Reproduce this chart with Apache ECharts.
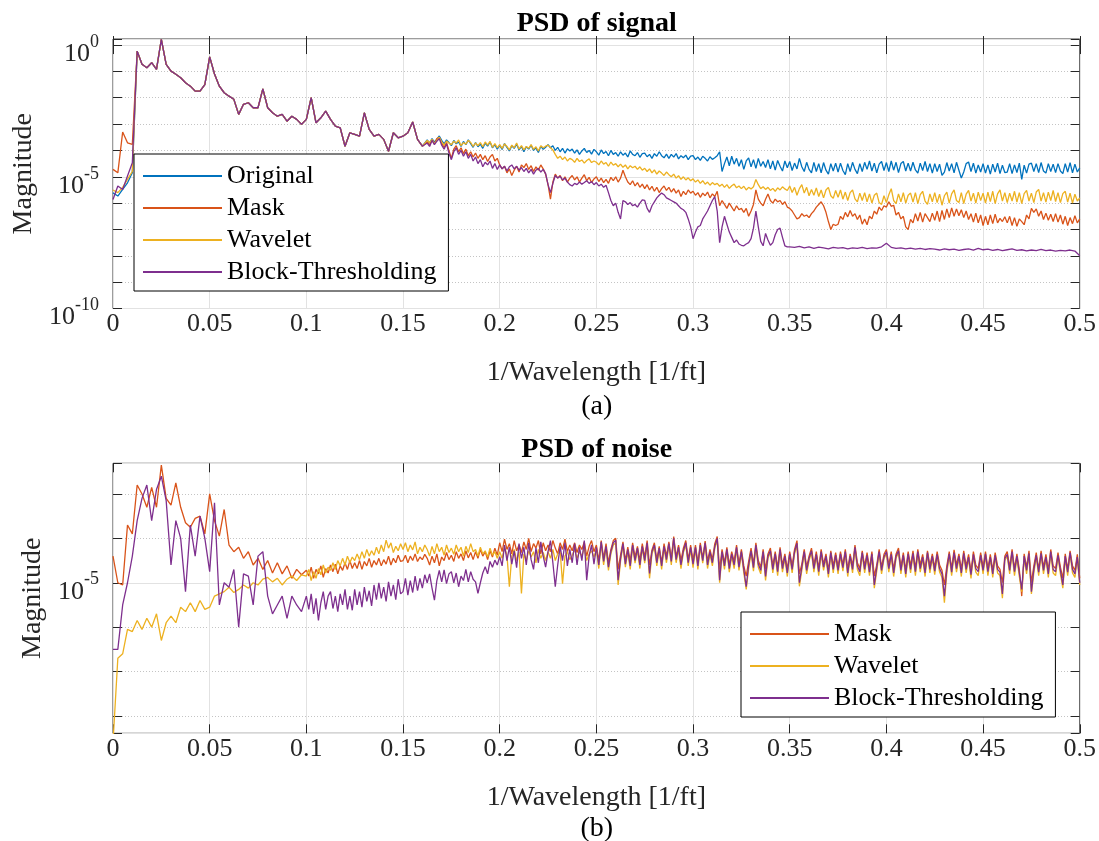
<!DOCTYPE html>
<html>
<head>
<meta charset="utf-8">
<title>PSD of signal and noise</title>
<script src="https://cdn.jsdelivr.net/npm/echarts@6/dist/echarts.min.js"></script>
<style>
  html, body { margin: 0; padding: 0; background: #ffffff; }
  #chart { width: 1099px; height: 841px; }
</style>
</head>
<body>
<div id="chart"></div>
<script>
// Spectra are sampled on regular frequency grids (1/ft).
// Magnitudes are stored as log10 values (exponents of ten).
const COARSE_STEP = 0.0025;
const FINE_STEP = 0.00125;

// ---------------- PSD of signal ----------------
// 0 .. 0.01 (coarse)
const sigOriginalHead = [-5.61, -5.73, -5.48, -5.23, -4.85];
const sigMaskHead     = [-4.72, -4.85, -3.3, -3.71, -3.77];
const sigWaveletHead  = [-5.5, -5.6, -5.4, -5.1, -4.8];
const sigBlockHead    = [-5.86, -5.35, -5.48, -4.97, -4.47];

// 0.0125 .. 0.16 (coarse): the four estimates coincide in this band
const sigSharedBand = [
  -0.23, -0.73, -0.86, -0.67, -0.92, 0.22, -0.73, -0.99, -1.11, -1.24,
  -1.43, -1.56, -1.75, -1.75, -1.5, -0.45, -1.1, -1.56, -1.81, -1.94,
  -2.06, -2.63, -2.25, -2.19, -2.38, -2.38, -1.66, -2.38, -2.57, -2.7,
  -2.63, -2.89, -2.7, -2.82, -3.01, -2.82, -2.0, -2.95, -2.76, -2.51,
  -2.82, -3.08, -3.14, -3.84, -3.33, -3.39, -3.46, -2.57, -3.2, -3.46,
  -3.39, -3.58, -4.03, -3.33, -3.52, -3.46, -3.33, -2.92, -3.58, -3.84
];

// 0.1625 .. 0.5 (fine)
const sigOriginalTail = [
  -3.6, -3.72, -3.55, -3.68, -3.58, -3.45, -3.62, -3.75, -3.6, -3.7,
  -3.82, -3.62, -3.75, -3.68, -3.85, -3.66, -3.78, -3.6, -3.74, -3.88,
  -3.7, -3.86, -3.76, -3.92, -3.72, -3.84, -3.68, -3.9, -3.78, -3.95,
  -3.8, -3.96, -3.74, -3.88, -4.02, -3.82, -3.92, -3.76, -3.98, -3.85,
  -4.05, -3.86, -3.95, -3.8, -4.0, -3.9, -4.08, -3.84, -3.96, -3.88,
  -3.78, -3.9, -3.82, -4.0, -3.88, -4.05, -3.92, -4.1, -3.94, -4.02,
  -3.95, -4.1, -3.98, -4.15, -4.02, -3.92, -4.08, -4.0, -4.14, -3.96,
  -4.05, -4.18, -3.98, -4.12, -4.04, -4.2, -4.0, -4.15, -4.08, -4.22,
  -4.05, -4.18, -4.1, -4.25, -4.02, -4.15, -4.2, -4.08, -4.26, -4.12,
  -4.1, -4.24, -4.15, -4.3, -4.12, -4.22, -4.05, -4.2, -4.28, -4.14,
  -4.3, -4.15, -4.25, -4.12, -4.32, -4.2, -4.28, -4.18, -4.35, -4.22,
  -4.2, -4.35, -4.25, -4.38, -4.22, -4.3, -4.4, -4.24, -4.34, -4.28,
  -4.2, -4.05, -4.8, -4.5, -4.25, -4.58, -4.22, -4.52, -4.3, -4.6,
  -4.35, -4.72, -4.4, -4.28, -4.62, -4.35, -4.68, -4.3, -4.6, -4.42,
  -4.65, -4.35, -4.7, -4.4, -4.75, -4.38, -4.6, -4.78, -4.4, -4.66,
  -4.42, -4.76, -4.48, -4.7, -4.3, -4.62, -4.8, -4.45, -4.72, -4.85,
  -4.45, -4.8, -4.5, -4.85, -4.46, -4.75, -4.9, -4.5, -4.78, -4.48,
  -4.82, -4.48, -4.76, -4.92, -4.5, -4.8, -4.45, -4.72, -4.88, -4.5,
  -4.8, -4.45, -4.72, -4.4, -4.78, -4.48, -4.85, -4.52, -4.42, -4.76,
  -4.46, -4.8, -4.4, -4.75, -4.45, -4.84, -4.5, -4.42, -4.78, -4.48,
  -4.78, -4.45, -4.74, -4.86, -4.48, -4.76, -4.42, -4.8, -4.5, -4.86,
  -4.5, -4.8, -4.52, -4.95, -4.82, -4.46, -4.78, -4.5, -4.85, -4.45,
  -4.75, -5.05, -4.82, -4.5, -4.44, -4.8, -4.48, -4.86, -4.55, -4.82,
  -4.5, -4.86, -4.55, -4.9, -4.52, -4.82, -4.48, -4.88, -4.56, -4.84,
  -4.82, -4.5, -4.88, -4.55, -4.84, -4.48, -5.1, -4.56, -4.86, -4.52,
  -4.48, -4.8, -4.5, -4.84, -4.46, -4.78, -4.86, -4.5, -4.8, -4.52,
  -4.84, -4.5, -4.78, -4.88, -4.5, -4.82, -4.46, -4.85, -4.52, -4.82,
  -4.66
];
const sigMaskTail = [
  -3.68, -3.8, -3.6, -3.75, -3.55, -3.5, -3.72, -3.88, -3.7, -4.0,
  -4.3, -3.95, -3.82, -4.05, -3.9, -4.12, -3.95, -4.2, -4.05, -4.25,
  -4.1, -4.3, -4.15, -4.35, -4.2, -4.42, -4.25, -4.15, -4.4, -4.3,
  -4.55, -4.7, -4.6, -4.85, -4.7, -4.95, -4.75, -4.6, -4.82, -4.55,
  -4.65, -4.5, -4.72, -4.58, -4.8, -4.62, -4.75, -4.55, -4.7, -4.9,
  -5.3, -5.85, -5.2, -4.9, -5.05, -4.95, -5.15, -5.0, -5.2, -5.05,
  -4.95, -5.12, -5.0, -5.2, -5.05, -4.92, -5.15, -5.02, -5.22, -5.08,
  -5.0, -5.18, -5.05, -5.22, -5.1, -5.25, -5.02, -5.15, -5.0, -5.2,
  -5.05, -4.75, -5.0, -5.2, -5.3, -5.15, -5.35, -5.22, -5.4, -5.28,
  -5.45, -5.3, -5.5, -5.36, -5.55, -5.4, -5.6, -5.45, -5.35, -5.52,
  -5.4, -5.58, -5.45, -5.62, -5.5, -5.75, -5.55, -5.68, -5.5, -5.62,
  -5.55, -5.7, -5.6, -5.78, -5.62, -5.72, -5.58, -5.8, -5.65, -5.75,
  -5.55, -6.1, -5.9, -6.05, -6.2, -6.0, -6.15, -6.3, -6.1, -6.25,
  -6.2, -6.35, -6.2, -6.5, -6.3, -6.05, -5.5, -5.85, -6.0, -6.1,
  -5.85, -5.65, -5.9, -6.0, -5.85, -5.95, -5.9, -6.05, -5.95, -6.15,
  -6.2, -6.3, -6.45, -6.6, -6.55, -6.4, -6.5, -6.45, -6.55, -6.4,
  -6.3, -6.15, -6.05, -5.95, -6.1, -6.35, -6.7, -7.0, -6.8, -6.85,
  -6.8, -6.5, -6.62, -6.35, -6.52, -6.28, -6.5, -6.4, -6.62, -6.45,
  -6.8, -6.6, -6.82, -6.5, -6.6, -6.3, -6.42, -6.15, -6.28, -6.1,
  -6.15, -5.95, -6.12, -6.08, -6.45, -6.35, -6.6, -6.5, -6.9, -7.0,
  -6.62, -6.75, -6.4, -6.68, -6.35, -6.72, -6.4, -6.55, -6.7, -6.38,
  -6.65, -6.3, -6.7, -6.28, -6.62, -6.22, -6.55, -6.18, -6.5, -6.22,
  -6.48, -6.25, -6.55, -6.3, -6.62, -6.4, -6.72, -6.38, -6.75, -6.45,
  -6.85, -6.5, -6.82, -6.45, -6.78, -6.42, -6.75, -6.58, -6.7, -6.52,
  -6.75, -6.5, -6.85, -6.55, -6.88, -6.6, -6.7, -6.82, -6.45, -6.6,
  -6.2, -6.35, -6.22, -6.5, -6.3, -6.62, -6.38, -6.65, -6.42, -6.7,
  -6.4, -6.72, -6.45, -6.8, -6.5, -6.85, -6.55, -6.78, -6.48, -6.75,
  -6.6
];
const sigWaveletTail = [
  -3.62, -3.7, -3.58, -3.75, -3.62, -3.5, -3.68, -3.8, -3.64, -3.72,
  -3.78, -3.65, -3.72, -3.6, -3.82, -3.7, -3.76, -3.62, -3.7, -3.85,
  -3.72, -3.82, -3.7, -3.86, -3.68, -3.8, -3.66, -3.88, -3.74, -3.9,
  -3.78, -3.92, -3.75, -3.85, -3.98, -3.8, -3.9, -3.72, -3.95, -3.82,
  -3.98, -3.85, -3.92, -3.78, -3.96, -3.86, -4.02, -3.82, -3.9, -3.84,
  -3.8, -3.9, -3.98, -4.15, -4.3, -4.22, -4.35, -4.25, -4.4, -4.3,
  -4.35, -4.45, -4.3, -4.42, -4.36, -4.48, -4.38, -4.32, -4.46, -4.4,
  -4.45, -4.55, -4.4, -4.52, -4.46, -4.6, -4.44, -4.56, -4.5, -4.62,
  -4.52, -4.64, -4.55, -4.7, -4.58, -4.66, -4.6, -4.72, -4.62, -4.75,
  -4.68, -4.8, -4.7, -4.85, -4.74, -4.9, -4.78, -4.86, -4.95, -4.82,
  -4.92, -5.0, -4.9, -5.05, -4.96, -5.1, -5.0, -5.12, -5.04, -5.15,
  -5.08, -5.2, -5.12, -5.25, -5.15, -5.28, -5.2, -5.32, -5.22, -5.3,
  -5.25, -5.36, -5.28, -5.4, -5.3, -5.44, -5.34, -5.28, -5.42, -5.35,
  -5.45, -5.36, -5.5, -5.4, -5.46, -5.38, -5.1, -5.3, -5.45, -5.38,
  -5.48, -5.4, -5.52, -5.44, -5.55, -5.42, -5.5, -5.38, -5.46, -5.52,
  -5.35, -5.6, -5.4, -5.7, -5.45, -5.3, -5.62, -5.4, -5.72, -5.48,
  -5.7, -5.42, -5.75, -5.5, -5.8, -5.5, -5.4, -5.72, -5.82, -5.52,
  -5.78, -5.5, -5.85, -5.58, -5.9, -5.6, -5.5, -5.84, -5.95, -5.62,
  -5.9, -5.6, -5.95, -5.65, -6.0, -5.7, -5.62, -5.98, -6.05, -5.72,
  -5.98, -5.68, -5.45, -5.9, -6.02, -5.65, -5.95, -5.6, -6.0, -5.7,
  -5.62, -5.96, -5.6, -6.02, -5.68, -5.55, -5.92, -6.05, -5.65, -5.95,
  -5.6, -5.98, -5.66, -6.08, -5.72, -5.58, -6.0, -5.65, -5.5, -5.9,
  -5.98, -5.6, -6.02, -5.66, -5.52, -5.92, -5.62, -6.0, -5.58, -5.9,
  -5.62, -6.0, -5.58, -5.94, -5.55, -6.02, -5.65, -5.5, -5.92, -5.6,
  -5.98, -5.62, -5.92, -5.55, -5.96, -5.6, -6.02, -5.64, -5.52, -5.92,
  -5.62, -5.98, -5.58, -5.48, -5.92, -5.6, -5.96, -5.58, -5.9, -5.52,
  -5.94, -5.6, -5.98, -5.64, -5.55, -5.96, -5.62, -6.0, -5.66, -5.92,
  -5.8
];
// Block-Thresholding: 0.1625 .. 0.35 (fine), then 0.3525 .. 0.5 (coarse, flat floor)
const sigBlockTail = [
  -3.72, -3.85, -3.62, -3.78, -3.65, -3.55, -3.8, -3.95, -3.75, -4.1,
  -4.35, -4.05, -3.9, -4.15, -4.0, -4.22, -4.05, -4.3, -4.15, -4.4,
  -4.25, -4.5, -4.35, -4.62, -4.45, -4.55, -4.4, -4.68, -4.5, -4.72,
  -4.55, -4.7, -4.6, -4.78, -4.62, -4.55, -4.7, -4.6, -4.75, -4.65,
  -4.8, -4.68, -4.85, -4.72, -4.9, -4.75, -4.68, -4.82, -4.72, -4.88,
  -5.3, -5.6, -5.25, -4.95, -5.05, -4.98, -5.12, -5.05, -5.2, -5.3,
  -5.35, -5.25, -5.3, -5.2, -5.28, -5.22, -5.15, -5.25, -5.18, -5.3,
  -5.22, -5.35, -5.28, -5.4, -5.32, -5.6, -5.9, -6.1, -6.0, -6.35,
  -6.6, -5.9, -5.95, -6.05, -5.98, -6.1, -6.05, -6.15, -6.0, -5.88,
  -5.9, -6.2, -6.35, -6.1, -5.95, -5.8, -5.7, -5.62, -5.68, -5.8,
  -5.85, -5.9, -5.95, -6.0, -6.1, -6.2, -6.25, -6.35, -6.6, -6.9,
  -7.35, -7.1, -6.9, -6.85, -6.6, -6.45, -6.3, -6.1, -5.9, -5.75,
  -6.3, -7.5, -6.9, -6.5, -6.8, -7.1, -7.3, -7.5, -7.4, -7.55,
  -7.6, -7.62, -7.55, -7.5, -7.35, -6.95, -6.3, -6.9, -7.45, -7.62,
  -7.15, -7.4, -7.6, -7.5, -7.2, -7.0, -6.95, -7.3, -7.62, -7.66,
  -7.66
];
const sigBlockFloor = [
  -7.68, -7.64, -7.7, -7.66, -7.72, -7.67, -7.7, -7.74, -7.68, -7.71,
  -7.69, -7.74, -7.7, -7.72, -7.68, -7.73, -7.7, -7.71, -7.66, -7.52,
  -7.68, -7.72, -7.7, -7.74, -7.71, -7.75, -7.72, -7.76, -7.73, -7.75,
  -7.78, -7.74, -7.77, -7.75, -7.79, -7.76, -7.74, -7.78, -7.72, -7.77,
  -7.75, -7.79, -7.76, -7.8, -7.77, -7.74, -7.79, -7.77, -7.81, -7.78,
  -7.8, -7.76, -7.8, -7.78, -7.82, -7.79, -7.81, -7.78, -7.82, -8.0
];

// ---------------- PSD of noise ----------------
// 0 .. 0.0975 (coarse)
const noiseMaskLow = [
  -4.4, -5.0, -5.05, -3.7, -3.9, -2.8, -3.0, -3.3, -2.85, -3.3,
  -2.35, -3.1, -3.25, -2.75, -3.3, -3.65, -3.75, -3.55, -3.5, -3.9,
  -3.0, -3.6, -3.95, -3.35, -4.15, -4.3, -4.2, -4.45, -4.3, -4.6,
  -4.45, -4.7, -4.5, -4.78, -4.55, -4.8, -4.62, -4.9, -4.7, -4.82
];
const noiseWaveletLow = [
  -8.6, -6.7, -6.6, -6.05, -6.1, -5.85, -6.05, -5.8, -6.0, -5.7,
  -6.3, -5.9, -5.75, -5.9, -5.55, -5.65, -5.45, -5.65, -5.4, -5.6,
  -5.55, -5.3, -5.25, -5.2, -5.1, -5.22, -5.15, -5.05, -5.12, -5.0,
  -5.05, -4.92, -4.88, -4.98, -4.9, -5.05, -4.92, -4.85, -4.95, -4.82
];
const noiseBlockLow = [
  -6.5, -6.5, -5.5, -5.0, -4.4, -3.6, -3.1, -2.8, -3.6, -2.9,
  -2.6, -3.15, -4.6, -3.6, -4.0, -5.2, -3.7, -4.4, -3.5, -4.0,
  -4.75, -3.2, -5.5, -5.0, -5.1, -4.7, -6.0, -4.8, -4.85, -5.5,
  -4.4, -4.3, -5.3, -5.7, -5.5, -5.3, -5.8, -5.3, -5.5, -5.65
];
// 0.1 .. 0.5 (fine)
const noiseMaskHigh = [
  -4.72, -4.85, -4.65, -4.9, -4.7, -4.8, -4.62, -4.88, -4.68, -4.78,
  -4.6, -4.75, -4.58, -4.8, -4.62, -4.72, -4.55, -4.7, -4.5, -4.68,
  -4.55, -4.68, -4.5, -4.7, -4.52, -4.62, -4.45, -4.65, -4.5, -4.6,
  -4.45, -4.62, -4.48, -4.58, -4.4, -4.6, -4.45, -4.55, -4.38, -4.52,
  -4.5, -4.38, -4.55, -4.4, -4.5, -4.35, -4.52, -4.42, -4.48, -4.36,
  -4.45, -4.6, -4.4, -4.55, -4.35, -4.62, -4.42, -4.5, -4.32, -4.48,
  -4.38, -4.52, -4.3, -4.45, -4.35, -4.5, -4.28, -4.44, -4.32, -4.48,
  -4.3, -4.45, -4.25, -4.4, -4.3, -4.48, -4.28, -4.42, -4.22, -4.38,
  -4.1, -4.3, -4.02, -4.25, -4.12, -4.35, -4.05, -4.28, -4.15, -4.32,
  -4.08, -4.25, -4.0, -4.3, -4.12, -4.22, -4.05, -4.35, -4.1, -4.28,
  -4.15, -4.3, -4.05, -4.22, -4.35, -4.1, -4.25, -4.02, -4.3, -4.15,
  -4.28, -4.1, -4.32, -4.15, -4.25, -4.08, -4.4, -4.18, -4.05, -4.3,
  -4.15, -4.5, -4.05, -4.45, -4.12, -4.55, -4.25, -4.05, -4.0, -4.7,
  -4.38, -4.08, -4.5, -4.2, -4.52, -4.1, -4.42, -4.18, -4.5, -4.12,
  -4.42, -4.05, -4.6, -4.26, -4.1, -4.48, -4.18, -4.55, -4.12, -4.4,
  -4.08, -4.45, -3.96, -4.42, -4.15, -4.5, -4.22, -4.05, -4.48, -4.15,
  -4.5, -4.15, -4.55, -4.1, -4.45, -4.06, -4.52, -4.25, -4.48, -4.12,
  -3.96, -4.7, -4.25, -4.55, -4.2, -4.6, -4.3, -4.52, -4.15, -4.58,
  -4.25, -4.62, -4.85, -4.52, -4.22, -4.58, -4.1, -4.5, -4.65, -4.25,
  -4.7, -4.35, -4.22, -4.62, -4.3, -4.66, -4.2, -4.6, -4.35, -4.7,
  -4.3, -4.62, -4.25, -4.05, -4.8, -4.58, -4.25, -4.65, -4.4, -4.22,
  -4.6, -4.3, -4.68, -4.25, -4.58, -4.35, -4.72, -4.28, -4.62, -4.32,
  -4.65, -4.3, -4.6, -4.25, -4.7, -4.35, -4.62, -4.15, -4.55, -4.68,
  -4.28, -4.62, -4.32, -4.68, -4.3, -4.85, -4.6, -4.25, -4.65, -4.36,
  -4.25, -4.6, -4.3, -4.7, -4.35, -4.22, -4.65, -4.32, -4.72, -4.3,
  -4.62, -4.28, -4.68, -4.25, -4.6, -4.36, -4.7, -4.28, -4.62, -4.35,
  -4.66, -4.3, -4.6, -4.72, -5.05, -4.62, -4.3, -4.68, -4.26, -4.6,
  -4.35, -4.7, -4.28, -4.62, -4.36, -4.75, -4.3, -4.6, -4.68, -4.32,
  -4.65, -4.3, -4.68, -4.36, -4.72, -4.32, -4.62, -4.7, -5.0, -4.4,
  -4.3, -4.65, -4.25, -4.68, -4.35, -4.7, -5.3, -4.35, -4.65, -4.28,
  -5.0, -4.62, -4.32, -4.7, -4.28, -4.65, -4.36, -4.72, -4.25, -4.62,
  -4.68, -4.32, -4.65, -4.9, -4.35, -4.7, -4.28, -4.62, -4.72, -4.36,
  -4.9
];
const noiseWaveletHigh = [
  -4.85, -4.7, -4.95, -4.75, -4.9, -4.68, -4.82, -4.6, -4.78, -4.65,
  -4.72, -4.55, -4.7, -4.5, -4.62, -4.45, -4.6, -4.4, -4.55, -4.42,
  -4.5, -4.35, -4.48, -4.3, -4.45, -4.25, -4.4, -4.28, -4.38, -4.2,
  -4.35, -4.15, -4.3, -4.04, -4.22, -4.1, -4.32, -4.18, -4.28, -4.12,
  -4.25, -4.1, -4.3, -4.15, -4.26, -4.08, -4.35, -4.2, -4.3, -4.15,
  -4.25, -4.4, -4.18, -4.35, -4.12, -4.3, -4.2, -4.38, -4.15, -4.32,
  -4.22, -4.36, -4.15, -4.3, -4.2, -4.4, -4.18, -4.32, -4.12, -4.3,
  -4.25, -4.4, -4.2, -4.35, -4.28, -4.42, -4.22, -4.38, -4.3, -4.45,
  -4.3, -4.45, -4.2, -4.38, -5.09, -4.4, -4.25, -4.5, -4.3, -5.24,
  -4.35, -4.5, -4.28, -4.42, -4.3, -4.55, -4.25, -4.45, -4.32, -4.5,
  -4.3, -4.45, -4.25, -4.5, -4.35, -4.28, -5.02, -4.4, -4.3, -4.48,
  -4.38, -4.25, -4.45, -4.3, -4.4, -4.22, -4.5, -4.35, -4.28, -4.42,
  -4.25, -4.68, -4.12, -4.6, -4.22, -4.72, -4.35, -4.15, -4.1, -5.05,
  -4.52, -4.16, -4.65, -4.3, -4.7, -4.2, -4.56, -4.26, -4.68, -4.22,
  -4.56, -4.15, -4.9, -4.35, -4.2, -4.62, -4.26, -4.7, -4.22, -4.55,
  -4.16, -4.6, -4.05, -4.55, -4.25, -4.68, -4.32, -4.15, -4.62, -4.25,
  -4.66, -4.25, -4.7, -4.2, -4.56, -4.15, -4.68, -4.35, -4.62, -4.22,
  -4.05, -5.0, -4.35, -4.7, -4.3, -4.76, -4.4, -4.68, -4.25, -4.72,
  -4.35, -4.78, -5.15, -4.68, -4.32, -4.74, -4.2, -4.65, -4.8, -4.35,
  -4.95, -4.45, -4.32, -4.78, -4.4, -4.84, -4.3, -4.76, -4.45, -4.86,
  -4.4, -4.78, -4.35, -4.16, -5.08, -4.72, -4.35, -4.8, -4.5, -4.32,
  -4.76, -4.4, -4.84, -4.35, -4.72, -4.45, -4.88, -4.36, -4.78, -4.42,
  -4.8, -4.4, -4.74, -4.35, -4.86, -4.45, -4.78, -4.25, -4.7, -4.84,
  -4.36, -4.78, -4.42, -4.84, -4.4, -5.12, -4.74, -4.35, -4.8, -4.46,
  -4.35, -4.76, -4.4, -4.86, -4.45, -4.32, -4.8, -4.42, -4.88, -4.4,
  -4.78, -4.38, -4.84, -4.35, -4.76, -4.46, -4.86, -4.36, -4.78, -4.45,
  -4.82, -4.4, -4.76, -4.88, -5.45, -4.78, -4.4, -4.84, -4.36, -4.76,
  -4.45, -4.86, -4.38, -4.78, -4.46, -4.9, -4.4, -4.76, -4.84, -4.42,
  -4.8, -4.4, -4.84, -4.46, -4.88, -4.42, -4.78, -4.84, -5.35, -4.5,
  -4.4, -4.8, -4.35, -4.84, -4.45, -4.86, -5.2, -4.45, -4.8, -4.38,
  -5.25, -4.78, -4.42, -4.84, -4.38, -4.8, -4.46, -4.88, -4.35, -4.78,
  -4.84, -4.42, -4.8, -5.12, -4.45, -4.84, -4.36, -4.78, -4.88, -4.46,
  -5.05
];
const noiseBlockHigh = [
  -5.3, -5.6, -5.25, -5.7, -5.35, -5.85, -5.45, -5.2, -5.6, -5.3,
  -5.2, -5.58, -5.3, -5.65, -5.25, -5.5, -5.15, -5.6, -5.3, -5.62,
  -5.15, -5.5, -5.2, -5.55, -5.1, -5.42, -5.18, -5.52, -5.05, -5.38,
  -5.0, -5.35, -5.1, -5.42, -4.98, -5.3, -5.05, -5.38, -4.92, -5.25,
  -5.2, -4.9, -5.28, -4.95, -5.22, -4.85, -5.18, -4.9, -5.12, -4.82,
  -5.0, -4.8, -5.12, -5.39, -4.95, -4.72, -4.98, -4.71, -5.02, -4.8,
  -4.75, -5.0, -4.78, -5.09, -4.85, -4.95, -4.7, -4.98, -4.75, -4.92,
  -4.98, -5.24, -5.0, -4.78, -4.64, -4.8, -4.52, -4.65, -4.49, -4.6,
  -4.41, -4.62, -4.15, -4.5, -4.2, -4.58, -4.28, -4.66, -4.12, -4.45,
  -4.2, -4.6, -4.1, -4.48, -4.7, -4.22, -4.55, -4.08, -4.4, -4.65,
  -4.3, -4.05, -4.55, -5.09, -4.6, -4.18, -4.5, -4.1, -4.62, -4.25,
  -4.55, -4.12, -4.6, -4.2, -4.5, -4.05, -4.94, -4.4, -4.15, -4.58,
  -4.2, -4.6, -4.08, -4.52, -4.18, -4.65, -4.3, -4.1, -4.04, -4.94,
  -4.45, -4.12, -4.58, -4.25, -4.62, -4.15, -4.5, -4.22, -4.6, -4.18,
  -4.5, -4.1, -4.79, -4.3, -4.15, -4.55, -4.22, -4.62, -4.18, -4.48,
  -4.12, -4.52, -4.0, -4.48, -4.2, -4.6, -4.28, -4.1, -4.55, -4.2,
  -4.58, -4.2, -4.62, -4.15, -4.5, -4.1, -4.6, -4.3, -4.55, -4.18,
  -4.0, -4.94, -4.3, -4.62, -4.25, -4.68, -4.35, -4.6, -4.2, -4.65,
  -4.3, -4.7, -5.09, -4.6, -4.28, -4.66, -4.15, -4.58, -4.72, -4.3,
  -4.86, -4.4, -4.28, -4.7, -4.35, -4.75, -4.25, -4.68, -4.4, -4.78,
  -4.35, -4.7, -4.3, -4.11, -5.0, -4.65, -4.3, -4.72, -4.45, -4.28,
  -4.68, -4.36, -4.75, -4.3, -4.65, -4.4, -4.8, -4.32, -4.7, -4.38,
  -4.72, -4.35, -4.66, -4.3, -4.78, -4.4, -4.7, -4.2, -4.62, -4.75,
  -4.32, -4.7, -4.38, -4.76, -4.35, -5.05, -4.66, -4.3, -4.72, -4.42,
  -4.3, -4.68, -4.36, -4.78, -4.4, -4.28, -4.72, -4.38, -4.8, -4.35,
  -4.7, -4.34, -4.75, -4.3, -4.68, -4.42, -4.78, -4.32, -4.7, -4.4,
  -4.74, -4.36, -4.68, -4.8, -5.3, -4.7, -4.35, -4.76, -4.32, -4.68,
  -4.4, -4.78, -4.34, -4.7, -4.42, -4.82, -4.36, -4.68, -4.75, -4.38,
  -4.72, -4.35, -4.75, -4.42, -4.8, -4.38, -4.7, -4.76, -5.25, -4.45,
  -4.36, -4.72, -4.3, -4.75, -4.4, -4.78, -5.15, -4.4, -4.72, -4.34,
  -5.2, -4.7, -4.38, -4.76, -4.34, -4.72, -4.42, -4.8, -4.3, -4.7,
  -4.75, -4.38, -4.72, -5.05, -4.4, -4.76, -4.32, -4.7, -4.8, -4.42,
  -5.0
];

// Axis ranges (log10 of magnitude)
const SIG_LOG_MIN = -10, SIG_LOG_MAX = 0.23;
const NOISE_LOG_MIN = -8.39, NOISE_LOG_MAX = -2.31;

const COLORS = { original: '#0072BD', mask: '#D95319', wavelet: '#EDB120', block: '#7E2F8E' };
const FONT = 'Liberation Serif';
const INK = '#262626';

// turn sampled segments into [frequency, log10 magnitude] pairs
function segment(start, step, values) {
  return values.map((v, k) => [+(start + k * step).toFixed(5), v]);
}

const sigOriginal = [].concat(
  segment(0, COARSE_STEP, sigOriginalHead),
  segment(0.0125, COARSE_STEP, sigSharedBand),
  segment(0.1625, FINE_STEP, sigOriginalTail));
const sigMask = [].concat(
  segment(0, COARSE_STEP, sigMaskHead),
  segment(0.0125, COARSE_STEP, sigSharedBand),
  segment(0.1625, FINE_STEP, sigMaskTail));
const sigWavelet = [].concat(
  segment(0, COARSE_STEP, sigWaveletHead),
  segment(0.0125, COARSE_STEP, sigSharedBand),
  segment(0.1625, FINE_STEP, sigWaveletTail));
const sigBlock = [].concat(
  segment(0, COARSE_STEP, sigBlockHead),
  segment(0.0125, COARSE_STEP, sigSharedBand),
  segment(0.1625, FINE_STEP, sigBlockTail),
  segment(0.3525, COARSE_STEP, sigBlockFloor));

const noiseMask = [].concat(segment(0, COARSE_STEP, noiseMaskLow), segment(0.1, FINE_STEP, noiseMaskHigh));
const noiseWavelet = [].concat(segment(0, COARSE_STEP, noiseWaveletLow), segment(0.1, FINE_STEP, noiseWaveletHigh));
const noiseBlock = [].concat(segment(0, COARSE_STEP, noiseBlockLow), segment(0.1, FINE_STEP, noiseBlockHigh));

// tick labels of the form 10^n at every fifth decade
function decadeLabel(v) {
  const r = Math.round(v);
  if (Math.abs(v - r) > 1e-6 || r % 5 !== 0) return '';
  return '{b|10}{s|' + r + '}';
}
const decadeRich = {
  b: { fontFamily: FONT, fontSize: 26, color: INK, verticalAlign: 'bottom', padding: [8, 0, 0, 0] },
  s: { fontFamily: FONT, fontSize: 18, color: INK, verticalAlign: 'top' }
};

function freqLabel(v) { return String(Math.round(v * 100) / 100); }

function xAxes(gridIndex) {
  return [
    {
      gridIndex, type: 'value', position: 'bottom', min: 0, max: 0.5, interval: 0.05,
      axisLine: { show: false },
      axisTick: { inside: true, length: 9, lineStyle: { color: INK, width: 1 } },
      axisLabel: { fontFamily: FONT, fontSize: 26, color: INK, margin: 3, formatter: freqLabel },
      splitLine: { show: true, lineStyle: { color: '#e2e2e2', width: 1 } },
      name: '1/Wavelength [1/ft]', nameLocation: 'middle', nameGap: 50,
      nameTextStyle: { fontFamily: FONT, fontSize: 28, color: INK }
    },
    {
      gridIndex, type: 'value', position: 'top', min: 0, max: 0.5, interval: 0.05,
      axisLine: { show: false },
      axisTick: { inside: true, length: 9, lineStyle: { color: INK, width: 1 } },
      axisLabel: { show: false }, splitLine: { show: false }
    }
  ];
}

function yAxes(gridIndex, min, max, tickOpt, majorOpt, nameGap) {
  return [
    Object.assign({
      gridIndex, type: 'value', position: 'left', min, max,
      axisLine: { show: false },
      axisTick: { inside: true, length: 9, lineStyle: { color: INK, width: 1 } },
      axisLabel: { formatter: decadeLabel, rich: decadeRich, margin: 14, padding: [10, 0, 0, 0] },
      splitLine: { show: true, lineStyle: { color: '#c4c4c4', width: 1, type: [1, 2] } },
      name: 'Magnitude', nameLocation: 'middle', nameGap, nameRotate: 90,
      nameTextStyle: { fontFamily: FONT, fontSize: 28, color: INK }
    }, tickOpt),
    Object.assign({
      gridIndex, type: 'value', position: 'left', min, max,
      axisLine: { show: false }, axisTick: { show: false }, axisLabel: { show: false },
      splitLine: { show: true, lineStyle: { color: '#e2e2e2', width: 1 } }
    }, majorOpt),
    Object.assign({
      gridIndex, type: 'value', position: 'right', min, max,
      axisLine: { show: false },
      axisTick: { inside: true, length: 9, lineStyle: { color: INK, width: 1 } },
      axisLabel: { show: false }, splitLine: { show: false }
    }, tickOpt)
  ];
}

function lineSeries(name, color, data, xAxisIndex, yAxisIndex) {
  return {
    name, type: 'line', xAxisIndex, yAxisIndex, data,
    symbol: 'none', showSymbol: false, silent: true,
    lineStyle: { color, width: 1.3 }, itemStyle: { color },
    emphasis: { disabled: true }
  };
}

function legendBox(left, top, names) {
  return {
    left, top, orient: 'vertical', data: names,
    icon: 'rect', itemWidth: 79, itemHeight: 2, itemGap: 6,
    padding: [9, 12, 6, 9],
    backgroundColor: '#ffffff', borderColor: '#000000', borderWidth: 1, borderRadius: 0,
    textStyle: { fontFamily: FONT, fontSize: 26, color: '#000000' },
    selectedMode: false
  };
}

const PLOT_CENTER_X = 113 + 967.5 / 2;
function titleText(text, top, bold) {
  return {
    text, left: PLOT_CENTER_X, top, textAlign: 'center', padding: 0,
    textStyle: { fontFamily: FONT, fontSize: 28, fontWeight: bold ? 'bold' : 'normal', color: '#000000' }
  };
}

const chart = echarts.init(document.getElementById('chart'), null, { renderer: 'canvas' });
chart.setOption({
  animation: false,
  backgroundColor: '#ffffff',
  title: [
    titleText('PSD of signal', 10, true),
    titleText('(a)', 393, false),
    titleText('PSD of noise', 436, true),
    titleText('(b)', 815, false)
  ],
  grid: [
    { left: 113, right: 18.5, top: 39, height: 269.5, show: true, borderColor: '#3a3a3a', borderWidth: 1, backgroundColor: 'transparent' },
    { left: 113, right: 18.5, top: 463.3, height: 270, show: true, borderColor: '#3a3a3a', borderWidth: 1, backgroundColor: 'transparent' }
  ],
  xAxis: xAxes(0).concat(xAxes(1)),
  yAxis: yAxes(0, SIG_LOG_MIN, SIG_LOG_MAX, { interval: 1 }, { interval: 5 }, 71)
    .concat(yAxes(1, NOISE_LOG_MIN, NOISE_LOG_MAX, { splitNumber: 6 }, { splitNumber: 1 }, 63)),
  legend: [
    legendBox(134, 154, ['Original', 'Mask', 'Wavelet', 'Block-Thresholding']),
    legendBox(741, 612, ['Mask', 'Wavelet', 'Block-Thresholding'])
  ],
  series: [
    lineSeries('Original', COLORS.original, sigOriginal, 0, 0),
    lineSeries('Mask', COLORS.mask, sigMask, 0, 0),
    lineSeries('Wavelet', COLORS.wavelet, sigWavelet, 0, 0),
    lineSeries('Block-Thresholding', COLORS.block, sigBlock, 0, 0),
    lineSeries('Mask', COLORS.mask, noiseMask, 2, 3),
    lineSeries('Wavelet', COLORS.wavelet, noiseWavelet, 2, 3),
    lineSeries('Block-Thresholding', COLORS.block, noiseBlock, 2, 3)
  ]
});
</script>
</body>
</html>
